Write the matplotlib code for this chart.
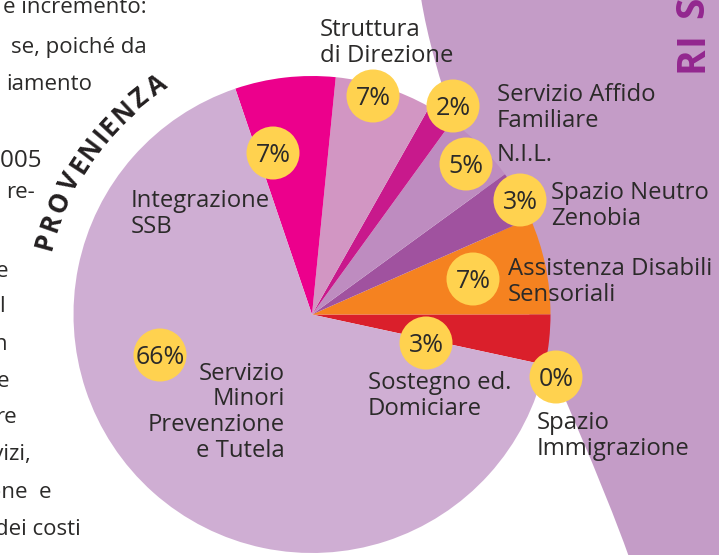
import numpy as np
import matplotlib
matplotlib.use('Agg')
import matplotlib.pyplot as plt
from matplotlib.patches import Circle, PathPatch
from matplotlib.path import Path
from matplotlib.textpath import TextPath
from matplotlib.font_manager import FontProperties

plt.rcParams['font.family'] = ['Open Sans', 'DejaVu Sans']

# ---------------- data ----------------
categories = ['Sostegno ed.\nDomiciare', 'Assistenza Disabili\nSensoriali',
              'Spazio Neutro\nZenobia', 'N.I.L.', 'Servizio Affido\nFamiliare',
              'Struttura\ndi Direzione', 'Integrazione\nSSB',
              'Servizio\nMinori\nPrevenzione\ne Tutela', 'Spazio\nImmigrazione']
shares = [3.4, 6.6, 3.4, 5.0, 1.8, 6.6, 6.8, 66.4, 0.0]
pct_labels = ['3%', '7%', '3%', '5%', '2%', '7%', '7%', '66%', '0%']
colors = ['#DA1F2B', '#F58220', '#A0529F', '#BE8CC0', '#C8198C',
          '#D296C3', '#EC008C', '#CFAED3', '#CFAED3']

arc_title = 'PROVENIENZA'
side_letters = ['R', 'I', 'S']
para_lines = ['e incremento:', 'se, poiché da', 'iamento', '2005', 're-', 'e',
              'l', 'n', 'e', 're', 'servizi,', 'zione  e', 'dei costi']

# ---------------- layout (image pixel coords, y down) ----------------
W, H = 719, 555
def Y(y):
    return H - y

pie_center = (312, 314.5)
pie_radius = 238.5
badge_xy = [(426, 343), (473, 279), (520, 200), (466, 164), (453, 106),
            (373, 96), (273, 153), (160, 355), (556, 377)]
# x, baseline of LAST line, alignment
label_xy = [(368, 415, 'left'), (508, 301, 'left'), (551, 225, 'left'),
            (497, 161, 'left'), (497, 127, 'left'), (320, 62, 'left'),
            (131, 233, 'left'), (285, 457, 'right'), (537, 455, 'left')]
para_xy = [(147, 13), (147, 53), (92, 90), (42, 167), (35, 198), (8, 277),
           (5, 312), (7, 350), (9, 387), (17, 423), (32, 460), (52, 498),
           (81, 535)]
para_fs = [16, 16, 16, 17.5, 16, 16, 16, 16, 16, 16, 16, 16, 16]
side_xy = [(703, 59.5), (703, 39), (703, 7)]

txt_color = '#2B2A29'
bg_purple = '#C49CC7'
badge_color = '#FFD24F'

fig = plt.figure(figsize=(W / 100, H / 100), dpi=100)
ax = fig.add_axes([0, 0, 1, 1])

# background shape on the right
verts = [(421, Y(-2)), (445, Y(150)), (575, Y(405)), (629, Y(557)),
         (W + 2, Y(557)), (W + 2, Y(-2)), (421, Y(-2))]
codes = [Path.MOVETO, Path.CURVE4, Path.CURVE4, Path.CURVE4,
         Path.LINETO, Path.LINETO, Path.CLOSEPOLY]
ax.add_patch(PathPatch(Path(verts, codes), fc=bg_purple, ec='none', zorder=0))

# pie
wedges, _ = ax.pie(shares, colors=colors, startangle=-12.2, counterclock=True,
                   center=(pie_center[0], Y(pie_center[1])), radius=pie_radius,
                   wedgeprops=dict(linewidth=0, edgecolor='none'), frame=False)
for w in wedges:
    w.set_zorder(1)

ax.set_xlim(0, W)
ax.set_ylim(0, H)
ax.set_aspect('auto')
ax.axis('off')

# badges and labels
for (bx, by), pct in zip(badge_xy, pct_labels):
    ax.add_patch(Circle((bx, Y(by)), 26.5, fc=badge_color, ec='none', zorder=3))
    ax.text(bx, Y(by + 9), pct, ha='center', va='baseline', fontsize=18,
            color=txt_color, zorder=4)

for (lx, ly, ha), lab in zip(label_xy, categories):
    ax.text(lx, Y(ly), lab, ha=ha, va='baseline', multialignment=ha,
            fontsize=17.2, color=txt_color, zorder=4, linespacing=1.1)

# paragraph fragment at left (cut by the left edge)
for (px, py), fs, line in zip(para_xy, para_fs, para_lines):
    ax.text(px, Y(py), line, ha='right', va='baseline', fontsize=fs,
            color=txt_color, zorder=4)

# curved title
arc_fs = 18.5
prop = FontProperties(family='Open Sans', weight='bold', size=arc_fs)
widths = []
for ch in arc_title:
    ext = TextPath((0, 0), ch, prop=prop).get_extents()
    widths.append(ext.width * 100 / 72)
r_arc = 279
a0, a1 = 164.7, 124.1
arc_len = np.deg2rad(a0 - a1) * r_arc
core = sum((widths[i] + widths[i + 1]) / 2 for i in range(len(widths) - 1))
track = (arc_len - core) / (len(widths) - 1)
s = 0.0
cx, cy = pie_center[0], Y(pie_center[1])
for i, ch in enumerate(arc_title):
    if i > 0:
        s += (widths[i - 1] + widths[i]) / 2 + track
    ang = a0 - np.rad2deg(s / r_arc)
    x = cx + r_arc * np.cos(np.deg2rad(ang))
    y = cy + r_arc * np.sin(np.deg2rad(ang))
    ax.text(x, y, ch, rotation=ang - 90, rotation_mode='anchor', ha='center',
            va='center_baseline', fontsize=arc_fs, fontweight='bold',
            color='#231F20', zorder=4)

# vertical side title (cut at the top edge)
for (sx, sy), ch in zip(side_xy, side_letters):
    ax.text(sx, Y(sy), ch, rotation=90, rotation_mode='anchor', ha='center',
            va='baseline', fontsize=28, fontweight='bold', color='#93278F',
            zorder=4)

fig.savefig('out.png', dpi=100)
